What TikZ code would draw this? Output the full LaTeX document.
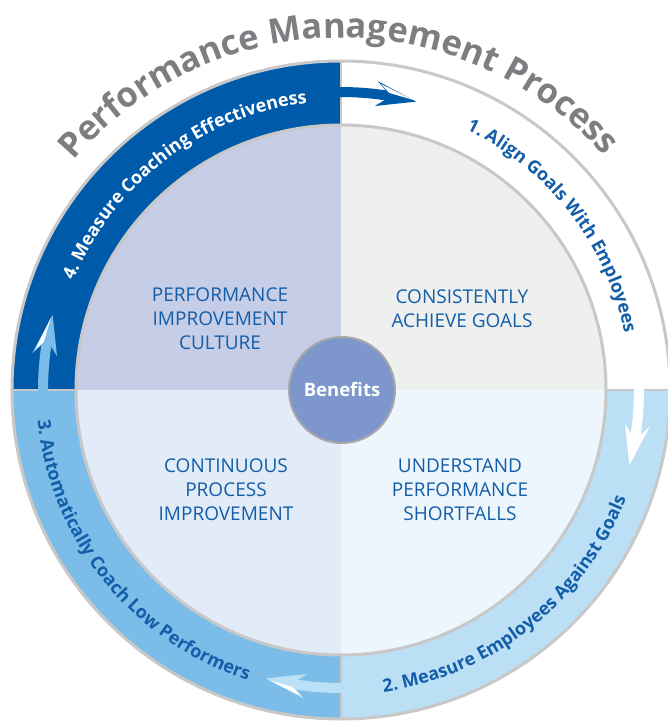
\documentclass[tikz,border=0pt]{standalone}
\usepackage{fontspec}
\setmainfont{Open Sans}
\usetikzlibrary{decorations.text}
\definecolor{ringA}{HTML}{005AAA}
\definecolor{ringC}{HTML}{7BBDE8}
\definecolor{ringB}{HTML}{BBE0F6}
\definecolor{quadTL}{HTML}{C6CDE7}
\definecolor{quadTR}{HTML}{EEEFEF}
\definecolor{quadBL}{HTML}{E2ECF8}
\definecolor{quadBR}{HTML}{EEF6FD}
\definecolor{benefit}{HTML}{7D96CC}
\definecolor{benefitborder}{HTML}{A8A8A8}
\definecolor{bordergray}{HTML}{C8C8C8}
\definecolor{txtblue}{HTML}{135DA9}
\definecolor{titlegray}{HTML}{7D7E82}

\newcommand\PMtitlefont{\fontsize{34.5}{40}\selectfont\bfseries}
\newcommand\PMringfont{\fontsize{18}{22}\selectfont\bfseries}

\newcommand\PMarrow[3]{%
 \fill[#2] (#1+0.3:293) arc[start angle=#1+0.3, end angle=#1-8.7, radius=293] -- (#1-8.7:303) arc[start angle=#1-8.7, end angle=#1+0.3, radius=303] -- cycle;
 \fill[#2] (#1-8.5:303) -- (#1-6.8:311) -- (#1-14.6:298) -- (#1-6.8:286) -- (#1-8.5:293) -- cycle;
 \fill[#3] (#1-13.9:299) -- (#1-7.5:308.5) -- (#1-9.2:301) -- cycle;
}

\tikzset{
  qtext/.style={align=center, text=txtblue, font=\fontsize{19}{24}\selectfont, inner sep=0pt},
  divider/.style={draw=bordergray, line width=2.5pt},
}

\begin{document}
\begin{tikzpicture}[x=1pt, y=1pt]
\useasboundingbox (-341,-331) rectangle (327,390);
% ring segments
\fill[ringA] (0,0) -- (90:330) arc[start angle=90, end angle=180, radius=330] -- cycle;
\fill[white] (0,0) -- (0:330) arc[start angle=0, end angle=90, radius=330] -- cycle;
\fill[ringB] (0,0) -- (-90:330) arc[start angle=-90, end angle=0, radius=330] -- cycle;
\fill[ringC] (0,0) -- (180:330) arc[start angle=180, end angle=270, radius=330] -- cycle;
% inner quadrants
\fill[quadTL] (0,0) -- (90:265) arc[start angle=90, end angle=180, radius=265] -- cycle;
\fill[quadTR] (0,0) -- (0:265) arc[start angle=0, end angle=90, radius=265] -- cycle;
\fill[quadBR] (0,0) -- (-90:265) arc[start angle=-90, end angle=0, radius=265] -- cycle;
\fill[quadBL] (0,0) -- (180:265) arc[start angle=180, end angle=270, radius=265] -- cycle;
% dividers in the ring
\path[divider] (0:265) -- (0:330);
\path[divider] (90:265) -- (90:330);
\path[divider] (180:265) -- (180:330);
\path[divider] (270:265) -- (270:330);
% borders
\draw[bordergray, line width=3pt] (0,0) circle[radius=329];
\draw[bordergray, line width=3pt] (0,0) circle[radius=265];
% arrows
\PMarrow{90}{ringA}{white}
\PMarrow{0}{white}{white}
\PMarrow{-90}{ringB}{white}
\PMarrow{180}{ringC}{white}
% benefits
\node[circle, fill=benefit, draw=benefitborder, line width=2pt, minimum size=106pt, inner sep=0pt, text=white, font=\fontsize{18.5}{20}\selectfont\bfseries] (benefits) at (1,0) {Benefits};
% quadrant texts
\node[qtext] (tl) at (-121,71) {PERFORMANCE\\IMPROVEMENT\\CULTURE};
\node[qtext] (tr) at (121,81) {CONSISTENTLY\\ACHIEVE GOALS};
\node[qtext] (bl) at (-115,-100) {CONTINUOUS\\PROCESS\\IMPROVEMENT};
\node[qtext] (br) at (119,-100) {UNDERSTAND\\PERFORMANCE\\SHORTFALLS};
% title
\path[decorate, decoration={text along path, text align=center, text={|\PMtitlefont\color{titlegray}|Performance Management Process}}] (160.5:352) arc[start angle=160.5, end angle=20.5, radius=352];
% ring texts
\path[decorate, decoration={text along path, text align=center, text={|\PMringfont\color{white}|4. Measure Coaching Effectiveness}}] (177.25:289) arc[start angle=177.25, end angle=77.25, radius=289];
\path[decorate, decoration={text along path, text align=center, text={|\PMringfont\color{txtblue}|1. Align Goals With Employees}}] (87.8:289) arc[start angle=87.8, end angle=-12.2, radius=289];
\path[decorate, decoration={text along path, text align=center, text={|\PMringfont\color{txtblue}|2. Measure Employees Against Goals}}] (-101.4:305) arc[start angle=-101.4, end angle=-1.4, radius=305];
\path[decorate, decoration={text along path, text align=center, text={|\PMringfont\color{txtblue}|3. Automatically Coach Low Performers}}] (169:305) arc[start angle=169, end angle=269, radius=305];
\end{tikzpicture}
\end{document}
